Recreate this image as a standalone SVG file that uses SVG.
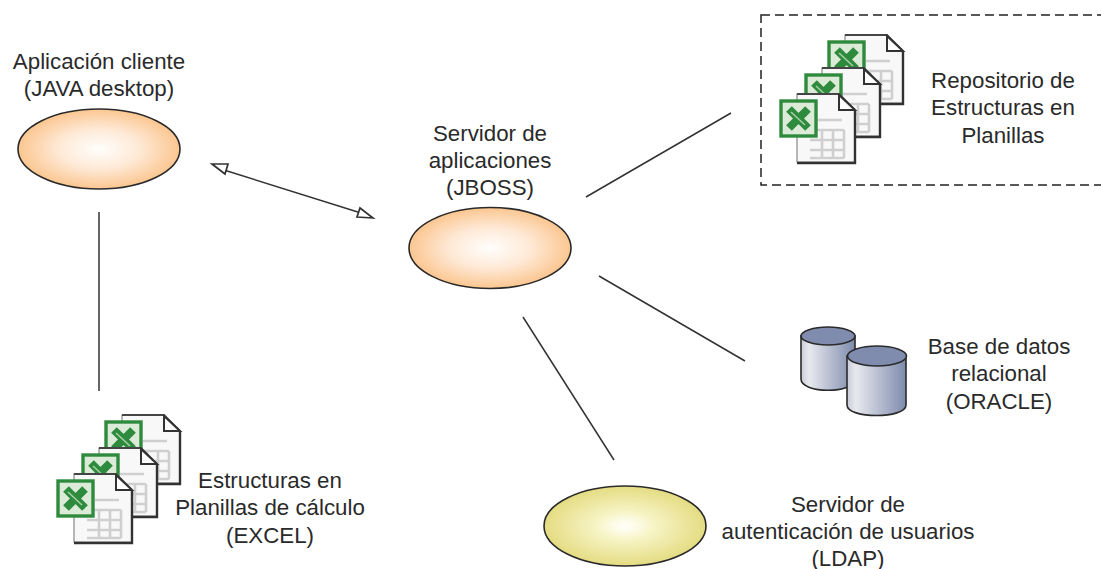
<svg xmlns="http://www.w3.org/2000/svg" width="1101" height="569" viewBox="0 0 1101 569">
<style>
text{font-family:"Liberation Sans",Arial,sans-serif;font-size:22.3px;fill:#2a2a2a;text-anchor:middle}
.c{stroke:#333;stroke-width:1.5;fill:none}
.e{stroke:#2a2a2a;stroke-width:1.6}
.d{fill:none;stroke:#cfcfcf;stroke-width:2.6}
.cy{stroke:#2a2a2a;stroke-width:1.6}
</style>
<defs>
<filter id="soft" x="-5%" y="-5%" width="110%" height="110%"><feGaussianBlur stdDeviation="0.6"/></filter>
<radialGradient id="o"><stop offset="0" stop-color="#fffefc"/><stop offset=".5" stop-color="#fee9d6"/><stop offset="1" stop-color="#fbc690"/></radialGradient>
<radialGradient id="y"><stop offset="0" stop-color="#fffff8"/><stop offset=".13" stop-color="#fdfcea"/><stop offset=".35" stop-color="#f7f4c6"/><stop offset="1" stop-color="#e4dc82"/></radialGradient>
<linearGradient id="cy"><stop offset="0" stop-color="#c9cbd8"/><stop offset=".15" stop-color="#e8e9ef"/><stop offset="1" stop-color="#7e8bad"/></linearGradient>
<g id="doc">
<path d="M17 0H59L75 16V68H17Z" fill="#f8f8f8" stroke="#888" stroke-width="1.2"/>
<path d="M17 0H59L75 16" fill="none" stroke="#444" stroke-width="1.8"/>
<path d="M75 16V69H17" fill="none" stroke="#333" stroke-width="2.4"/>
<path d="M59 1V16H75Z" fill="#fff" stroke="#333" stroke-width="2"/>
<path class="d" d="M38 26H62M30 36H64M30 46H64M30 56H64M30 64H64M42 36V64M53 36V64M64 36V64"/>
<rect x="1" y="7" width="35" height="35" fill="#dcebd8" stroke="#2f8a3c" stroke-width="3.4"/>
<path d="M9 15L28 34M28 15L9 34" stroke="#2f8a3c" stroke-width="8"/>
<path d="M11 18L25 31" stroke="#a9d0a9" stroke-width="1.5"/>
</g>
<g id="stack"><use href="#doc" x="48" y="0"/><use href="#doc" x="25" y="33"/><use href="#doc" x="0" y="59"/></g>
</defs>
<rect width="1101" height="569" fill="#fff"/>
<g id="connectors">
<path class="c" d="M99 212V391M586 197L731 113M599 276L745 361M523 317L614 460M224 170L361 213"/>
<path d="M212 164L228 164L225 174ZM373 218L357 217L360 208Z" fill="#fff" stroke="#333" stroke-width="1.7"/>
</g>
<g id="cliente"><ellipse class="e" cx="99" cy="149" rx="81" ry="40" fill="url(#o)"/><text x="99" y="69">Aplicación cliente</text><text x="99" y="96">(JAVA desktop)</text></g>
<g id="servidor"><ellipse class="e" cx="490" cy="248" rx="81" ry="40.5" fill="url(#o)"/><text x="490" y="141">Servidor de</text><text x="490" y="168">aplicaciones</text><text x="490" y="195">(JBOSS)</text></g>
<g id="repositorio"><rect x="761" y="15" width="345" height="170" fill="none" stroke="#222" stroke-width="1.5" stroke-dasharray="9 5"/><use href="#stack" x="780" y="35" filter="url(#soft)"/><text x="1003" y="88">Repositorio de</text><text x="1003" y="115">Estructuras en</text><text x="1003" y="143">Planillas</text></g>
<g id="oracle">
<path class="cy" d="M801 336V379C801 394 855 394 855 379V336Z" fill="url(#cy)"/><ellipse class="cy" cx="828" cy="336" rx="27" ry="9" fill="#7f8cae"/>
<path class="cy" d="M847 356V405C847 419 906 419 906 405V356Z" fill="url(#cy)"/><ellipse class="cy" cx="877" cy="356" rx="29.500" ry="10" fill="#7f8cae"/>
<text x="999" y="354">Base de datos</text><text x="999" y="381">relacional</text><text x="999" y="409">(ORACLE)</text></g>
<g id="excel"><use href="#stack" x="57" y="415" filter="url(#soft)"/><text x="270" y="488">Estructuras en</text><text x="270" y="515">Planillas de cálculo</text><text x="270" y="543">(EXCEL)</text></g>
<g id="ldap"><ellipse class="e" cx="625" cy="526" rx="81" ry="40" fill="url(#y)"/><text x="848" y="512">Servidor de</text><text x="848" y="539">autenticación de usuarios</text><text x="848" y="566">(LDAP)</text></g>
</svg>
